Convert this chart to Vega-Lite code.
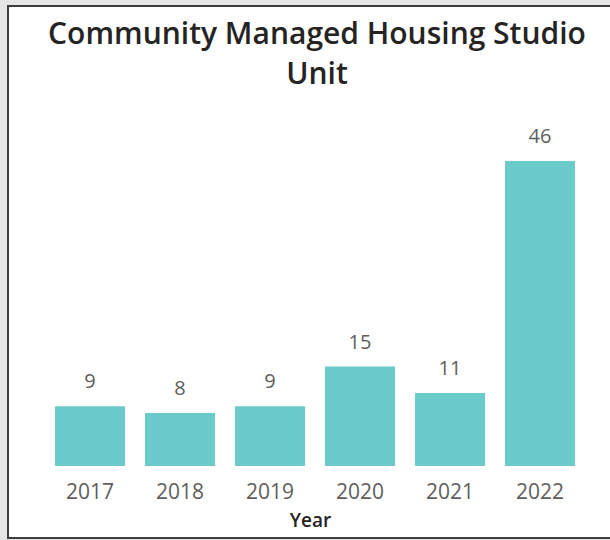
{
  "$schema": "https://vega.github.io/schema/vega-lite/v6.json",
  "autosize": "none",
  "width": 604,
  "height": 532,
  "padding": {"left": 8, "top": 6, "right": 0, "bottom": 2},
  "background": "#e6e6e6",
  "title": {
    "text": ["Community Managed Housing Studio", "Unit"],
    "font": "Open Sans",
    "fontSize": 30,
    "fontWeight": 600,
    "color": "#252423",
    "anchor": "middle",
    "offset": -84,
    "lineHeight": 40,
    "dx": 7
  },
  "data": {
    "values": [
      {"Year": "2017", "Units": 9},
      {"Year": "2018", "Units": 8},
      {"Year": "2019", "Units": 9},
      {"Year": "2020", "Units": 15},
      {"Year": "2021", "Units": 11},
      {"Year": "2022", "Units": 46}
    ]
  },
  "encoding": {
    "x": {
      "field": "Year",
      "type": "ordinal",
      "scale": {"paddingInner": 0.2222, "paddingOuter": 0.4667, "align": 0.56},
      "axis": {
        "title": "Year",
        "offset": -72,
        "domain": false,
        "ticks": false,
        "tickSize": 0,
        "grid": false,
        "labelPadding": 15,
        "labelAngle": 0,
        "labelFont": "Open Sans",
        "labelFontSize": 21,
        "labelColor": "#605E5C",
        "titleFont": "Open Sans",
        "titleFontSize": 19,
        "titleFontWeight": 600,
        "titleColor": "#252423",
        "titlePadding": 9
      }
    },
    "y": {
      "field": "Units",
      "type": "quantitative",
      "scale": {"domain": [-10.86, 69.38], "nice": false, "zero": false},
      "axis": null
    }
  },
  "layer": [
    {"mark": {"type": "bar", "color": "#6BCACA"}},
    {
      "mark": {
        "type": "text",
        "dy": -18,
        "baseline": "alphabetic",
        "font": "Open Sans",
        "fontSize": 20,
        "color": "#605E5C"
      },
      "encoding": {"text": {"field": "Units", "type": "quantitative"}}
    }
  ],
  "config": {
    "view": {"fill": "white", "stroke": "#3c3c3c", "strokeWidth": 2}
  }
}
